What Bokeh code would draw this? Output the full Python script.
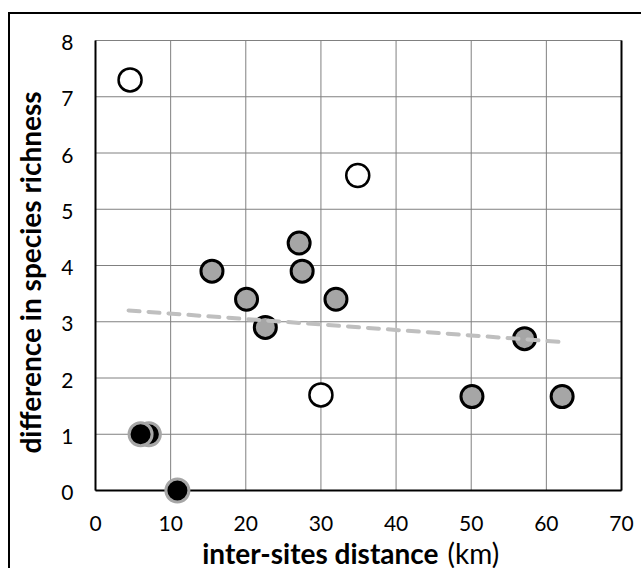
import math
from bokeh.plotting import figure
from bokeh.models import Range1d
from bokeh.core.properties import value
from bokeh.embed import file_html
from bokeh.resources import INLINE

# ---- data ----
x_ticks = [0, 10, 20, 30, 40, 50, 60, 70]
y_ticks = [0, 1, 2, 3, 4, 5, 6, 7, 8]
x_tick_labels = [str(t) for t in x_ticks]
y_tick_labels = [str(t) for t in y_ticks]

open_x = [4.6, 34.9, 30.0]
open_y = [7.3, 5.6, 1.7]

gray_x = [15.5, 20.1, 22.6, 27.1, 27.5, 32.0, 50.1, 57.1, 62.1]
gray_y = [3.9, 3.4, 2.9, 4.4, 3.9, 3.4, 1.67, 2.7, 1.67]

black_x = [7.1, 6.0, 10.9]
black_y = [1.0, 1.0, 0.0]

trend_x = [4.4, 62.1]
trend_y = [3.20, 2.64]

x_title_bold = "inter-sites distance"
x_title_unit = "(km)"
y_title = "difference in species richness"

FONT = "Lato"

# ---- layout: the frame fills the canvas; the plot area is drawn inside it ----
W, H = 633, 556                 # canvas
PL, PR, PT, PB = 85, 611, 26, 476   # plot-area edges in canvas pixels
x0, x1 = x_ticks[0], x_ticks[-1]
y0, y1 = y_ticks[0], y_ticks[-1]
sx = (PR - PL) / (x1 - x0)
sy = (PB - PT) / (y1 - y0)
x_range = Range1d(x0 - PL / sx, x1 + (W - PR) / sx)
y_range = Range1d(y0 - (H - PB) / sy, y1 + PT / sy)

p = figure(width=W, height=H, output_backend="svg", toolbar_location=None,
           x_range=x_range, y_range=y_range, x_axis_type=None, y_axis_type=None,
           min_border=0, margin=(12, 0, 0, 8),
           styles={"border-left": "2px solid black", "border-top": "2px solid black"})
p.outline_line_color = None
p.background_fill_color = "white"
p.border_fill_color = "white"

nx, ny = len(x_ticks), len(y_ticks)
# grid lines
p.segment(x0=x_ticks, y0=[y0] * nx, x1=x_ticks, y1=[y1] * nx, line_color="#808080", line_width=1)
p.segment(x0=[x0] * ny, y0=y_ticks, x1=[x1] * ny, y1=y_ticks, line_color="#808080", line_width=1)
# axis lines (left, bottom, right)
p.segment(x0=[x0, x0, x1], y0=[y0, y0, y0], x1=[x0, x1, x1], y1=[y1, y0, y1],
          line_color="black", line_width=2)

# tick labels
p.text(x=x_ticks, y=[y0] * nx, text=x_tick_labels, text_align="center", text_baseline="alphabetic",
       y_offset=33, text_font=value(FONT), text_font_size=value("21px"), text_color="black")
p.text(x=[x0] * ny, y=y_ticks, text=y_tick_labels, text_align="right", text_baseline="alphabetic",
       x_offset=-22, y_offset=2, text_font=value(FONT), text_font_size=value("21px"), text_color="black")

# axis titles
p.text(x=[x0], y=[(y0 + y1) / 2], text=[y_title], angle=math.pi / 2, text_align="center",
       text_baseline="middle", x_offset=-66, y_offset=7, text_font=value(FONT),
       text_font_style="bold", text_font_size=value("28px"), text_color="black")
p.text(x=[(x0 + x1) / 2], y=[y0], text=[x_title_bold], text_align="right", text_baseline="alphabetic",
       x_offset=80, y_offset=62, text_font=value(FONT), text_font_style="bold",
       text_font_size=value("28px"), text_color="black")
p.text(x=[(x0 + x1) / 2], y=[y0], text=[x_title_unit], text_align="left", text_baseline="alphabetic",
       x_offset=89, y_offset=62, text_font=value(FONT), text_font_size=value("28px"), text_color="black")

# markers
p.scatter(gray_x, gray_y, size=22, fill_color="#a6a6a6", line_color="black", line_width=3)
p.scatter(open_x, open_y, size=23, fill_color="white", line_color="black", line_width=2.5)
p.scatter(black_x, black_y, size=23, fill_color="black", line_color="#a6a6a6", line_width=3)

# trend line
p.line(trend_x, trend_y, line_color="#bfbfbf", line_width=4, line_dash="11 9", line_cap="round")

open("out.html", "w").write(file_html(p, INLINE))
